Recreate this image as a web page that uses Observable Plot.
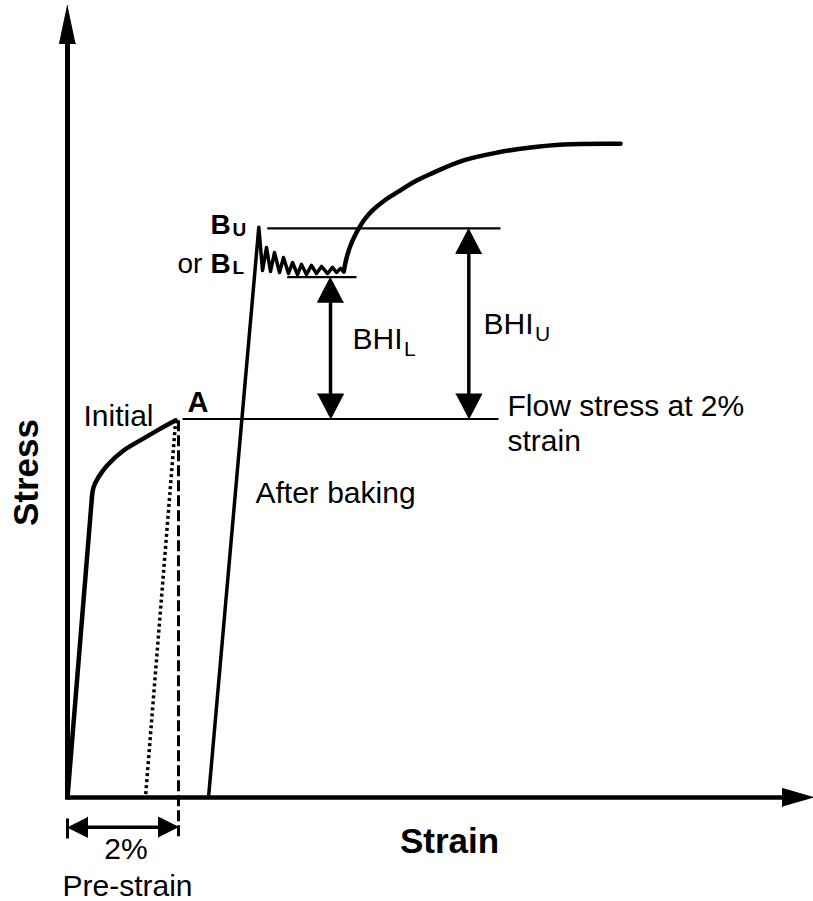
<!DOCTYPE html>
<html><head><meta charset="utf-8">
<script src="https://cdn.jsdelivr.net/npm/d3@7"></script>
<script src="https://cdn.jsdelivr.net/npm/@observablehq/plot@0.6"></script>
<style>body{margin:0;background:#fff;}svg{display:block}</style>
</head><body><div id="chart"></div>
<script>
// ---------- data (strain in %, stress in arbitrary units) ----------
const elasticStrain = [0, 0.44];
const elasticStress = [0, 238];
const initialStrain = [0.44, 0.47, 0.56, 0.71, 1.01, 1.31, 1.62, 1.95];
const initialStress = [238, 246, 254, 263, 275, 283, 291, 299];
const unloadStrain = [1.95, 1.405];
const unloadStress = [299, 0];
const preStrain = 2.0;
const flowStress = 300;
const upperYield = 451;
const lowerYield = 412.4;
const bakedStrain = [2.541, 3.447, 3.514, 3.586, 3.658, 3.730, 3.820, 3.892, 3.982, 4.054, 4.144, 4.216, 4.306, 4.396, 4.486, 4.577, 4.685, 4.775, 4.847, 4.919, 4.978];
const bakedStress = [0, 452, 417.7, 435.9, 416.9, 431.9, 416.1, 428.0, 415.3, 424.0, 414.5, 422.5, 414.5, 421.7, 415.3, 420.9, 415.3, 420.1, 416.1, 419.3, 416.9];
const hardenStrain = [4.978, 5.009, 5.045, 5.099, 5.171, 5.243, 5.351, 5.495, 5.712, 5.946, 6.234, 6.541, 7.135, 7.748, 8.342, 8.937, 9.964];
const hardenStress = [416.9, 424.0, 430.2, 437.5, 444.6, 450.6, 458.1, 465.3, 473.2, 479.8, 487.7, 494.2, 504.9, 511.2, 515.2, 517.6, 518.1];
const bhiLStrain = 4.739;
const bhiUStrain = 7.231;
const axisLabels = ["Strain", "Stress"];
const textLabels = ["Initial", "A", "After baking", "Flow stress at 2%", "strain", "2%", "Pre-strain"];

// ---------- layout ----------
const W = 813, H = 901, X0 = 67, Y0 = 797, KX = 55.5, KY = 1.2617;
const xMax = (W - X0) / KX, yMax = Y0 / KY;
const FONT = "'Liberation Sans', Arial, Helvetica, sans-serif";
const pts = (xs, ys) => xs.map((x, i) => ({x, y: ys[i]}));

function head(id, x, y, dx, dy, len, half) {
  const bx = x - dx * len / KX, by = y - dy * len / KY;
  return [
    {id, x, y},
    {id, x: bx - dy * half / KX, y: by + dx * half / KY},
    {id, x: bx + dy * half / KX, y: by - dx * half / KY}
  ];
}
const yTip = (Y0 - 5) / KY, xTip = xMax;
const dimY = (Y0 - 826.7) / KY;
const heads = [
  ...head("yaxis", 0, yTip, 0, 1, 38, 8),
  ...head("xaxis", xTip, 0, 1, 0, 31, 9),
  ...head("lTop", bhiLStrain, lowerYield, 0, 1, 25, 13),
  ...head("lBot", bhiLStrain, flowStress, 0, -1, 25, 13),
  ...head("uTop", bhiUStrain, upperYield, 0, 1, 25, 13),
  ...head("uBot", bhiUStrain, flowStress, 0, -1, 25, 13),
  ...head("dL", 0, dimY, -1, 0, 20, 10),
  ...head("dR", preStrain, dimY, 1, 0, 20, 10)
];

const segs = [
  {x1: 0, y1: -2 / KY, x2: 0, y2: yTip - 36 / KY, w: 5},
  {x1: 0, y1: 0, x2: xTip - 29 / KX, y2: 0, w: 4.5},
  {x1: bhiLStrain, y1: flowStress + 24 / KY, x2: bhiLStrain, y2: lowerYield - 24 / KY, w: 3.5},
  {x1: bhiUStrain, y1: flowStress + 24 / KY, x2: bhiUStrain, y2: upperYield - 24 / KY, w: 3.5},
  {x1: 19 / KX, y1: dimY, x2: preStrain - 19 / KX, y2: dimY, w: 3.5},
  {x1: 0, y1: (Y0 - 818) / KY, x2: 0, y2: (Y0 - 838) / KY, w: 3}
];
const refLines = [
  {x1: (182 - X0) / KX, x2: (498 - X0) / KX, y: flowStress},
  {x1: (266.7 - X0) / KX, x2: (500 - X0) / KX, y: upperYield},
  {x1: (286.7 - X0) / KX, x2: (356 - X0) / KX, y: lowerYield}
];

const px = (p) => (p - X0) / KX, py = (p) => (Y0 - p) / KY;
const texts = [
  {t: textLabels[0], x: px(83), y: py(425), s: 30, w: "normal", a: "start"},
  {t: textLabels[1], x: px(187), y: py(411), s: 29, w: "bold", a: "start"},
  {t: textLabels[2], x: px(255), y: py(502), s: 30, w: "normal", a: "start"},
  {t: textLabels[3], x: px(507), y: py(415), s: 30, w: "normal", a: "start"},
  {t: textLabels[4], x: px(507), y: py(450), s: 30, w: "normal", a: "start"},
  {t: textLabels[5], x: px(125.5), y: py(858), s: 30, w: "normal", a: "middle"},
  {t: textLabels[6], x: px(127), y: py(895), s: 30, w: "normal", a: "middle"},
  {t: axisLabels[0], x: px(449), y: py(852), s: 35, w: "bold", a: "middle"},
  {t: "BHI", x: px(352), y: py(348), s: 30, w: "normal", a: "start"},
  {t: "L", x: px(403.5), y: py(355), s: 21, w: "normal", a: "start"},
  {t: "BHI", x: px(483), y: py(333), s: 30, w: "normal", a: "start"},
  {t: "U", x: px(534.5), y: py(340), s: 21, w: "normal", a: "start"},
  {t: "B", x: px(210), y: py(233), s: 28, w: "bold", a: "start"},
  {t: "U", x: px(232), y: py(235), s: 19, w: "bold", a: "start"},
  {t: "or", x: px(177), y: py(272), s: 28, w: "normal", a: "start"},
  {t: "B", x: px(210), y: py(272), s: 28, w: "bold", a: "start"},
  {t: "L", x: px(232), y: py(273), s: 19, w: "bold", a: "start"}
];

const textMarks = texts.map(d => Plot.text([d], {
  x: "x", y: "y", text: "t", textAnchor: d.a, lineAnchor: "bottom",
  fontSize: d.s, fontWeight: d.w, fill: "black"
}));

const chart = Plot.plot({
  width: W, height: H,
  marginLeft: 0, marginRight: 0, marginTop: 0, marginBottom: 0,
  style: {fontFamily: FONT, background: "white", color: "black", overflow: "visible"},
  x: {domain: [0, xMax], range: [X0, W], axis: null},
  y: {domain: [0, yMax], range: [Y0, 0], axis: null},
  marks: [
    Plot.link(segs, {x1: "x1", y1: "y1", x2: "x2", y2: "y2", strokeWidth: "w", stroke: "black", strokeLinecap: "butt"}),
    Plot.link(refLines, {x1: "x1", y1: "y", x2: "x2", y2: "y", stroke: "black", strokeWidth: 2.2}),
    Plot.line(heads, {x: "x", y: "y", z: "id", fill: "black", stroke: "black", strokeWidth: 1}),
    Plot.line(pts(elasticStrain, elasticStress), {x: "x", y: "y", stroke: "black", strokeWidth: 4.5}),
    Plot.line(pts(initialStrain, initialStress), {x: "x", y: "y", stroke: "black", strokeWidth: 4.5, curve: "catmull-rom"}),
    Plot.line(pts(unloadStrain, unloadStress), {x: "x", y: "y", stroke: "black", strokeWidth: 3.5, strokeDasharray: "3,3", strokeLinecap: "butt"}),
    Plot.link([{x: preStrain, y1: 299, y2: (Y0 - 838) / KY}], {x1: "x", x2: "x", y1: "y1", y2: "y2", stroke: "black", strokeWidth: 3, strokeDasharray: "11,4", strokeLinecap: "butt"}),
    Plot.line(pts(bakedStrain, bakedStress), {x: "x", y: "y", stroke: "black", strokeWidth: 3.5, curve: "linear"}),
    Plot.line(pts(hardenStrain, hardenStress), {x: "x", y: "y", stroke: "black", strokeWidth: 4.5, curve: "catmull-rom"}),
    ...textMarks,
    Plot.text([{t: axisLabels[1], x: px(26), y: py(472)}], {x: "x", y: "y", text: "t", rotate: -90, fontSize: 35, fontWeight: "bold", fill: "black", textAnchor: "middle", lineAnchor: "middle"})
  ]
});
document.getElementById("chart").appendChild(chart);
</script>
</body></html>
